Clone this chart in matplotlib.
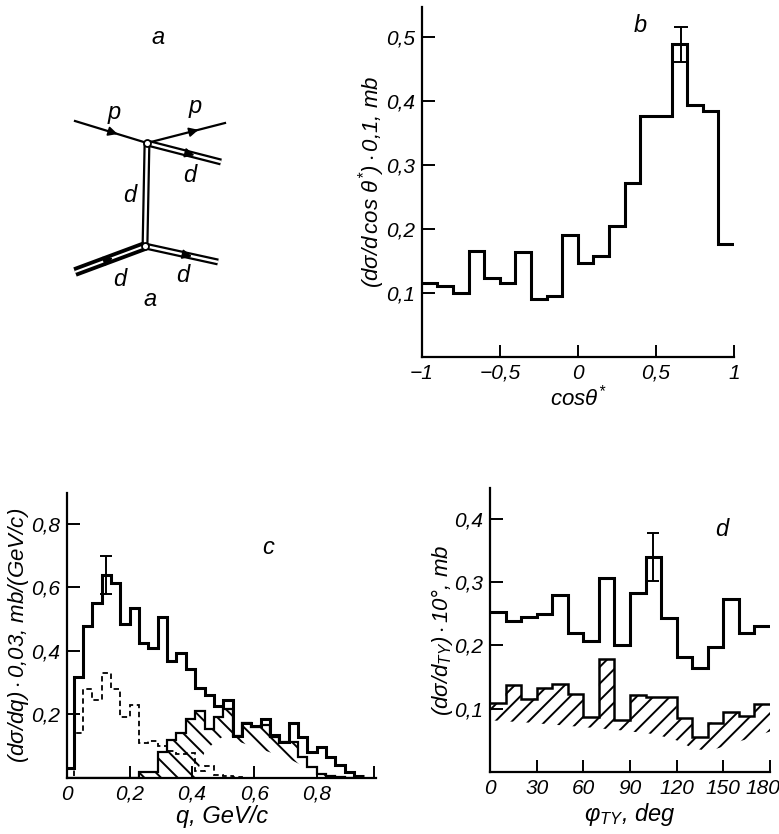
import numpy as np
import matplotlib
matplotlib.use("Agg")
import matplotlib.pyplot as plt
import matplotlib.transforms as mtransforms
from matplotlib.patches import Polygon

plt.rcParams['font.family'] = ['Liberation Sans', 'DejaVu Sans']
plt.rcParams['font.style'] = 'italic'
plt.rcParams['mathtext.fontset'] = 'custom'
plt.rcParams['mathtext.it'] = 'Liberation Sans:italic'
plt.rcParams['mathtext.rm'] = 'Liberation Sans:italic'
plt.rcParams['hatch.linewidth'] = 1.4

# ---- panel b: cos theta* distribution, 20 bins of 0.1
b_edges = np.linspace(-1, 1, 21)
b_vals = [0.115, 0.111, 0.100, 0.165, 0.124, 0.116, 0.164, 0.091, 0.096, 0.191,
          0.147, 0.157, 0.204, 0.272, 0.376, 0.376, 0.488, 0.394, 0.384, 0.177]
b_err_x = 0.66
b_err_lo, b_err_hi = 0.460, 0.516

# ---- panel c: q distribution (bins of 0.03, first bin narrower)
c_edges = np.concatenate([[0.0], np.arange(0.02, 0.96, 0.03)])
c_total = [0.03, 0.318, 0.479, 0.55, 0.64, 0.612, 0.483, 0.535, 0.423, 0.41,
           0.507, 0.367, 0.394, 0.341, 0.282, 0.262, 0.227, 0.246, 0.131, 0.171,
           0.164, 0.184, 0.134, 0.113, 0.171, 0.129, 0.082, 0.098, 0.066, 0.040,
           0.018, 0.006]
c_dashed = [0.0, 0.14, 0.28, 0.244, 0.329, 0.278, 0.192, 0.229, 0.108, 0.115,
            0.10, 0.085, 0.075, 0.077, 0.022, 0.036, 0.008, 0.005, 0.003, 0.0,
            0.0, 0.0, 0.0, 0.0, 0.0, 0.0, 0.0, 0.0, 0.0, 0.0, 0.0, 0.0]
c_hatch = [0.0, 0.0, 0.0, 0.0, 0.0, 0.0, 0.0, 0.0, 0.019, 0.019,
           0.082, 0.119, 0.141, 0.184, 0.209, 0.155, 0.19, 0.218, 0.131, 0.173,
           0.161, 0.166, 0.129, 0.113, 0.113, 0.066, 0.035, 0.012, 0.005, 0.003,
           0.0, 0.0]
c_hatch_low = [0.0, 0.0, 0.0, 0.0, 0.0, 0.0, 0.0, 0.0, 0.0, 0.0,
               0.0, 0.0, 0.0, 0.0, 0.0, 0.08, 0.11, 0.13, 0.12, 0.11,
               0.10, 0.09, 0.08, 0.07, 0.06, 0.045, 0.03, 0.01, 0.0, 0.0,
               0.0, 0.0, 0.0]
c_err_x = 0.125
c_err_lo, c_err_hi = 0.58, 0.70

# ---- panel d: phi_TY distribution, 10 degree bins
d_edges = np.arange(0, 181, 10)
d_total = [0.253, 0.239, 0.245, 0.250, 0.280, 0.220, 0.207, 0.306, 0.201, 0.283,
           0.340, 0.243, 0.182, 0.165, 0.198, 0.274, 0.219, 0.231]
d_hatch = [0.109, 0.137, 0.116, 0.133, 0.139, 0.123, 0.087, 0.178, 0.083, 0.122,
           0.118, 0.118, 0.085, 0.055, 0.078, 0.095, 0.088, 0.107]
d_hatch_low = [0.082, 0.080, 0.079, 0.077, 0.075, 0.073, 0.071, 0.069, 0.067, 0.064,
               0.062, 0.057, 0.050, 0.038, 0.033, 0.040, 0.048, 0.056, 0.064]
d_err_x = 105
d_err_lo, d_err_hi = 0.302, 0.378

W, H = 779, 834
fig = plt.figure(figsize=(W / 100, H / 100), dpi=100)


def frac(x0, y0, x1, y1):
    # pixel box (top-left origin) -> figure fraction rect
    return [x0 / W, 1 - y1 / H, (x1 - x0) / W, (y1 - y0) / H]


def style(ax):
    for s in ['top', 'right']:
        ax.spines[s].set_visible(False)
    for s in ['left', 'bottom']:
        ax.spines[s].set_linewidth(1.6)
    ax.tick_params(direction='in', length=9, width=1.4, labelsize=15, pad=5)


def hatched(ax, edges, top, low, hatch):
    xs, ys = [], []
    for i in range(len(top)):
        xs += [edges[i], edges[i + 1]]
        ys += [top[i], top[i]]
    pts = list(zip(xs, ys)) + list(zip(edges[::-1], low[::-1]))
    ax.add_patch(Polygon(pts, closed=True, facecolor='none', edgecolor='black',
                         linewidth=0, hatch=hatch))


# ---- a: diagram
axa = fig.add_axes(frac(0, 0, 380, 310))
axa.set_xlim(0, 380)
axa.set_ylim(310, 0)
axa.axis('off')
V1, V2 = (147, 143), (145, 246)


def dline(p, q, outer=5, inner=1.8):
    axa.plot([p[0], q[0]], [p[1], q[1]], color='black', lw=outer, solid_capstyle='butt')
    axa.plot([p[0], q[0]], [p[1], q[1]], color='white', lw=inner, solid_capstyle='butt')


def arrow(p, q, t=0.55):
    dx, dy = q[0] - p[0], q[1] - p[1]
    n = np.hypot(dx, dy)
    mx, my = p[0] + t * dx, p[1] + t * dy
    axa.annotate('', xy=(mx + 6 * dx / n, my + 6 * dy / n), xytext=(mx - 6 * dx / n, my - 6 * dy / n),
                 arrowprops=dict(arrowstyle='-|>', color='black', lw=1.2, mutation_scale=14))


axa.plot([75, V1[0]], [121, V1[1]], color='black', lw=1.6)
axa.plot([V1[0], 225], [V1[1], 123], color='black', lw=1.6)
dline(V1, (221, 162))
dline(V1, V2)
dline((75, 272), V2, outer=7, inner=1.5)
dline(V2, (218, 262))
arrow((75, 121), V1)
arrow(V1, (225, 123), 0.62)
arrow(V1, (221, 162), 0.6)
arrow((75, 272), V2, 0.5)
arrow(V2, (218, 262), 0.6)
for v in (V1, V2):
    axa.plot(v[0], v[1], 'o', ms=5, mfc='white', mec='black', mew=1.3)
for (x, y, s) in [(114, 112, 'p'), (195, 107, 'p'), (190, 175, 'd'), (130, 195, 'd'),
                  (120, 280, 'd'), (183, 275, 'd'), (150, 300, 'a'), (158, 38, 'a')]:
    axa.text(x, y, s, fontsize=17, ha='center', va='center')

# ---- b
axb = fig.add_axes(frac(421.7, 6.7, 734, 357))
style(axb)
axb.stairs(b_vals, b_edges, baseline=None, color='black', lw=2.2)
axb.errorbar([b_err_x], [(b_err_lo + b_err_hi) / 2], yerr=[(b_err_hi - b_err_lo) / 2],
             fmt='none', ecolor='black', elinewidth=1.4, capsize=5, capthick=1.4)
axb.set_xlim(-1, 1.0)
axb.set_ylim(0, 0.547)
axb.set_xticks([-1, -0.5, 0, 0.5, 1])
axb.set_xticklabels(['\u22121', '\u22120,5', '0', '0,5', '1'])
axb.set_yticks([0.1, 0.2, 0.3, 0.4, 0.5])
axb.set_yticklabels(['0,1', '0,2', '0,3', '0,4', '0,5'])
axb.set_xlabel(r'cos$\theta^{*}$', fontsize=16, labelpad=1)
axb.set_ylabel(r'$(d\sigma/d\,\cos\,\theta^{*})\cdot0{,}1$, mb', fontsize=16, labelpad=-1)
fig.text(640 / W, 1 - 25 / H, 'b', fontsize=17, ha='center', va='center')

# ---- c
axc = fig.add_axes(frac(67.3, 493, 376, 777.7))
style(axc)
hatched(axc, c_edges, c_hatch, c_hatch_low, '\\\\')
axc.stairs(c_hatch, c_edges, baseline=None, color='black', lw=1.6)
axc.stairs(c_dashed, c_edges, baseline=None, color='black', lw=1.3, linestyle=(0, (3, 2)))
axc.stairs(c_total, c_edges, baseline=None, color='black', lw=2.2)
axc.errorbar([c_err_x], [(c_err_lo + c_err_hi) / 2], yerr=[(c_err_hi - c_err_lo) / 2],
             fmt='none', ecolor='black', elinewidth=1.4, capsize=4, capthick=1.4)
axc.set_xlim(0, 0.99)
axc.set_ylim(0, 0.897)
axc.set_xticks([0, 0.2, 0.4, 0.6, 0.8, 0.985])
axc.set_xticklabels(['0', '0,2', '0,4', '0,6', '0,8', ''])
axc.set_yticks([0.2, 0.4, 0.6, 0.8])
axc.set_yticklabels(['0,2', '0,4', '0,6', '0,8'])
axc.set_xlabel('q, GeV/c', fontsize=17, labelpad=1)
axc.set_ylabel(r'$(d\sigma/dq)\cdot0{,}03$, mb/(GeV/c)', fontsize=16, labelpad=0)
fig.text(268 / W, 1 - 548 / H, 'c', fontsize=17, ha='center', va='center')

# ---- d
axd = fig.add_axes(frac(490, 488, 770, 772))
style(axd)
hatched(axd, d_edges, d_hatch, d_hatch_low, '//')
axd.stairs(d_hatch, d_edges, baseline=None, color='black', lw=1.8)
axd.stairs(d_total, d_edges, baseline=None, color='black', lw=2.2)
axd.errorbar([d_err_x], [(d_err_lo + d_err_hi) / 2], yerr=[(d_err_hi - d_err_lo) / 2],
             fmt='none', ecolor='black', elinewidth=1.4, capsize=4, capthick=1.4)
axd.set_xlim(0, 180)
axd.set_ylim(0, 0.449)
axd.set_xticks(np.arange(0, 181, 30))
axd.set_yticks([0.1, 0.2, 0.3, 0.4])
axd.set_yticklabels(['0,1', '0,2', '0,3', '0,4'])
last = axd.get_xticklabels()[-1]
last.set_transform(last.get_transform() + mtransforms.ScaledTranslation(-5 / 72, 0, fig.dpi_scale_trans))
axd.set_xlabel(r'$\varphi_{TY}$, deg', fontsize=17, labelpad=2)
axd.set_ylabel(r'$(d\sigma/d_{TY})\cdot10\degree$, mb', fontsize=16, labelpad=-1)
fig.text(722 / W, 1 - 530 / H, 'd', fontsize=17, ha='center', va='center')

fig.savefig('out.png', dpi=100)
